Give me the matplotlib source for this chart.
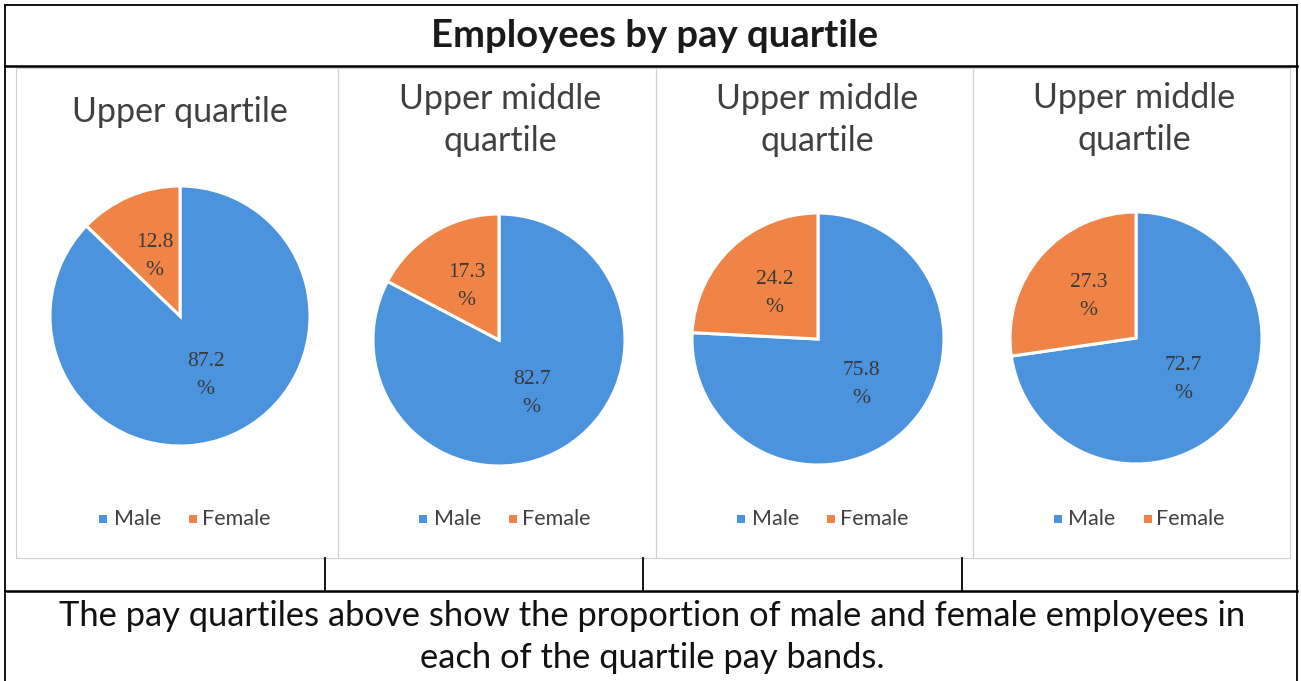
import matplotlib
matplotlib.use("Agg")
import matplotlib.pyplot as plt
from matplotlib.patches import Rectangle

# ---- data ----
title = "Employees by pay quartile"
panel_titles = ["Upper quartile", "Upper middle\nquartile", "Upper middle\nquartile", "Upper middle\nquartile"]
categories = ["Male", "Female"]
male_pct = [87.2, 82.7, 75.8, 72.7]
female_pct = [12.8, 17.3, 24.2, 27.3]
caption = "The pay quartiles above show the proportion of male and female employees in\neach of the quartile pay bands."

colors = ["#4b93dc", "#ef8446"]
W, H = 1301, 681
fig = plt.figure(figsize=(W / 100, H / 100), dpi=100)
bg = fig.add_axes([0, 0, 1, 1])
bg.set_xlim(0, W)
bg.set_ylim(H, 0)
bg.axis("off")

sans = ["Lato", "DejaVu Sans"]
serif = ["Liberation Serif", "DejaVu Serif"]

# table lines
lw = 1.3
bg.plot([5, 5], [5, H], color="black", lw=lw)
bg.plot([1297, 1297], [5, H], color="black", lw=lw)
bg.plot([5, 1297], [5, 5], color="black", lw=lw)
bg.plot([5, 1297], [66, 66], color="black", lw=1.8)
bg.plot([5, 1297], [591, 591], color="black", lw=1.8)
for x in [325, 643, 962]:
    bg.plot([x, x], [558, 591], color="black", lw=lw)

# panel frames
panel_edges = [16, 338, 656, 973, 1290]
for i in range(4):
    bg.add_patch(Rectangle((panel_edges[i], 68), panel_edges[i + 1] - panel_edges[i], 558 - 68,
                           fill=False, edgecolor="#cfcfcf", lw=0.8))

bg.text(655, 36, title, ha="center", va="center", fontsize=27.5, fontweight="bold",
        family=sans, color="#1a1a1a")
bg.text(652, 637, caption, ha="center", va="center", fontsize=24.8, family=sans,
        color="#111111", linespacing=1.35)

centers = [(180, 316, 130), (499, 340, 126), (818, 339, 126), (1136, 338, 126)]
title_y = [112, 120, 120, 119]

for i in range(4):
    cx, cy, r = centers[i]
    px0 = (panel_edges[i] + panel_edges[i + 1]) / 2
    bg.text(px0 + 3, title_y[i], panel_titles[i], ha="center", va="center", fontsize=24.5,
            family=sans, color="#404040", linespacing=1.38)
    ax = fig.add_axes([(cx - r) / W, 1 - (cy + r) / H, 2 * r / W, 2 * r / H])
    vals = [male_pct[i], female_pct[i]]
    labs = [f"{v}\n%" for v in vals]
    wedges, texts = ax.pie(vals, colors=colors, startangle=90, counterclock=False,
                           labels=labs, labeldistance=0.5,
                           wedgeprops=dict(edgecolor="white", linewidth=2.2),
                           textprops=dict(fontsize=15.5, family=serif, color="#3a3a3a"))
    for t in texts:
        t.set_ha("center")
        t.set_va("center")
        t.set_linespacing(1.65)
    ax.set_xlim(-1, 1)
    ax.set_ylim(-1, 1)
    ax.axis("off")
    # legend
    ly = 519
    bg.add_patch(Rectangle((px0 - 78, ly - 4), 8, 8, color=colors[0], lw=0))
    bg.text(px0 - 63, ly, categories[0], ha="left", va="center", fontsize=15.5, family=sans, color="#404040")
    bg.add_patch(Rectangle((px0 + 12, ly - 4), 8, 8, color=colors[1], lw=0))
    bg.text(px0 + 25, ly, categories[1], ha="left", va="center", fontsize=15.5, family=sans, color="#404040")

fig.savefig("out.png", dpi=100)
